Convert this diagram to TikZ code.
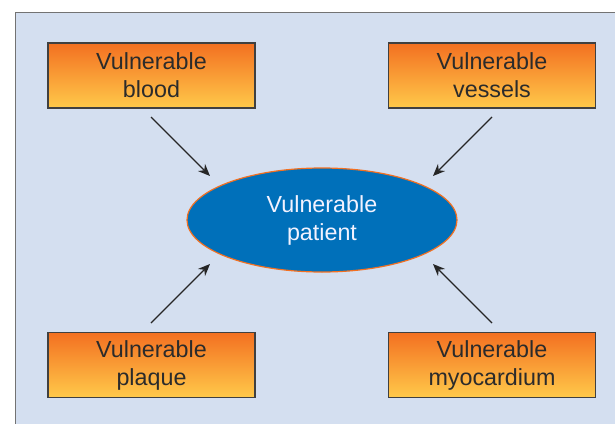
\documentclass[tikz,border=0pt]{standalone}
\usepackage{fontspec}
\setmainfont{Liberation Sans}
\usetikzlibrary{arrows.meta,shapes.geometric}
\definecolor{panel}{HTML}{D4DFF0}
\definecolor{orangetop}{HTML}{F37021}
\definecolor{orangebot}{HTML}{FFC94A}
\definecolor{pblue}{HTML}{0070BA}
\definecolor{txtgray}{HTML}{2B2B2B}
\tikzset{
  vbox/.style={draw=txtgray!90, line width=1.2pt, top color=orangetop, bottom color=orangebot,
    minimum width=207pt, minimum height=65pt, align=center, text=txtgray,
    font=\fontsize{23.3}{28}\selectfont, inner sep=0pt},
  varrow/.style={-{Stealth[length=12pt,width=10pt]}, line width=1.2pt, draw=black!85},
}
\begin{document}
\begin{tikzpicture}[x=1pt,y=-1pt]
\useasboundingbox (0,0) rectangle (615,423);
\begin{scope}
\clip (0,0) rectangle (615,423);
\draw[fill=panel, draw=black!55, line width=1.5pt] (15.5,12.5) rectangle (640,450);
\end{scope}
\node[vbox] (blood) at (151.5,75.5) {Vulnerable\\blood};
\node[vbox] (vessels) at (492,75.5) {Vulnerable\\vessels};
\node[vbox] (plaque) at (151.5,365) {Vulnerable\\plaque};
\node[vbox] (myo) at (492,365) {Vulnerable\\myocardium};
\node[ellipse, fill=pblue, draw=orangetop, line width=1.2pt, minimum width=270pt, minimum height=104pt,
  inner sep=0pt, align=center, text=white!95!blue, font=\fontsize{23.3}{28}\selectfont] (pat) at (322,220) {Vulnerable\\patient};
\coordinate (a1) at (151,117); \coordinate (b1) at (210,176);
\coordinate (a2) at (492,117); \coordinate (b2) at (433,176);
\coordinate (a3) at (151,323); \coordinate (b3) at (210,264);
\coordinate (a4) at (492,323); \coordinate (b4) at (433,264);
\draw[varrow] (a1) -- (b1);
\draw[varrow] (a2) -- (b2);
\draw[varrow] (a3) -- (b3);
\draw[varrow] (a4) -- (b4);
\end{tikzpicture}
\end{document}
